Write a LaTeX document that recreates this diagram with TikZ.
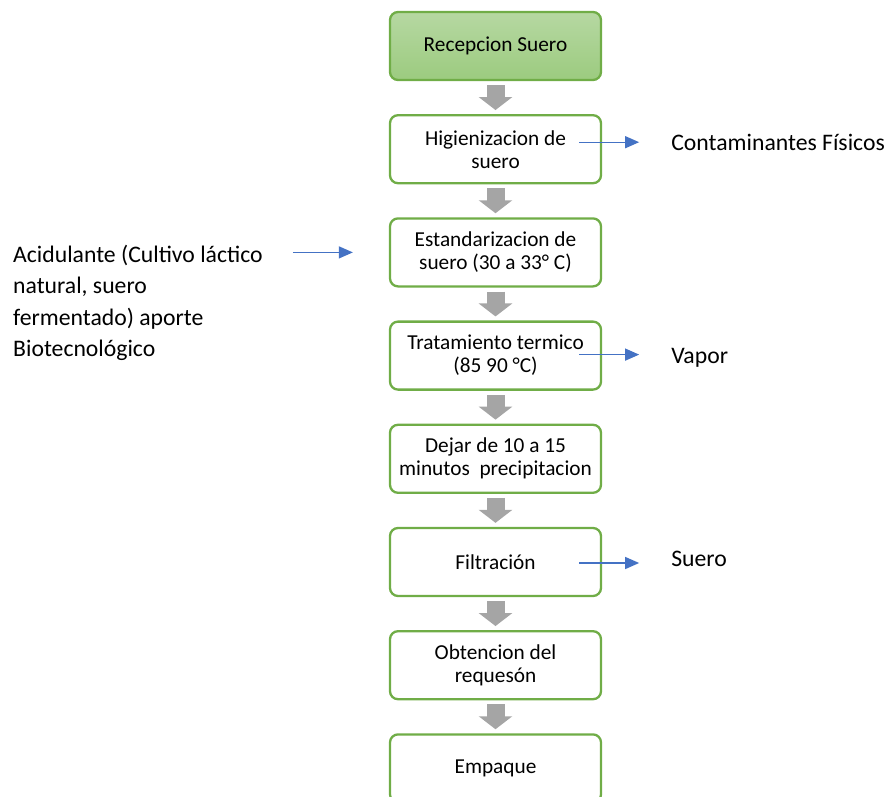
\documentclass[tikz,border=0pt]{standalone}
\usepackage{fontspec}
\setmainfont{Carlito}
\usetikzlibrary{arrows.meta,positioning}
\definecolor{boxgreen}{HTML}{70AD47}
\definecolor{fillgreentop}{RGB}{182,216,162}
\definecolor{fillgreenbot}{RGB}{156,203,127}
\definecolor{flowgray}{HTML}{A5A5A5}
\definecolor{sideblue}{HTML}{4472C4}

\begin{document}
\begin{tikzpicture}[x=1pt,y=1pt,node distance=103.2pt,
			main node/.style={rectangle,rounded corners=8pt,draw=boxgreen,line width=2.3pt,
				fill=white,minimum width=211pt,minimum height=68pt,align=center,
				font=\fontsize{21.3}{23}\selectfont},
			start node/.style={main node,top color=fillgreentop,bottom color=fillgreenbot},
			side node/.style={inner sep=0pt,align=left,
				font=\fontsize{23.7}{31.3}\selectfont},
			flow/.style={color=flowgray,line width=18pt,-{Triangle[length=13pt,width=33pt]},
				shorten <=4pt,shorten >=4pt},
			side arrow/.style={color=sideblue,line width=1.3pt,-{Triangle[length=14pt,width=12pt]}}
			]
			\useasboundingbox (0,0) rectangle (891,-797);
			
			\node[start node] (RS) at (495.5,-46) {Recepcion Suero};
			\node[main node] (HS) [below of=RS] {Higienizacion de\\suero};
			\node[main node] (ES) [below of=HS] {Estandarizacion de\\suero (30 a 33° C)};
			\node[main node] (TT) [below of=ES] {Tratamiento termico\\(85 90 °C)};
			\node[main node] (DP) [below of=TT] {Dejar de 10 a 15\\minutos\ \ precipitacion};
			\node[main node] (FI) [below of=DP] {Filtración};
			\node[main node] (OR) [below of=FI] {Obtencion del\\requesón};
			\node[main node] (EM) [below of=OR] {Empaque};
			
			% entradas y salidas
			\node[side node,anchor=west] (CF) at ([xshift=69pt,yshift=7pt]HS.east) {Contaminantes Físicos};
			\node[side node,anchor=west] (VA) at ([xshift=69pt,yshift=-2pt]TT.east) {Vapor};
			\node[side node,anchor=west] (SU) at ([xshift=69pt,yshift=3pt]FI.east) {Suero};
			\node[side node,anchor=north west] (AC) at (13,-245) {Acidulante (Cultivo láctico\\natural, suero\\fermentado) aporte\\Biotecnológico};
			
			\coordinate (HSa) at ([xshift=-23pt,yshift=7pt]HS.east);
			\coordinate (HSb) at ([xshift=37pt,yshift=7pt]HS.east);
			\coordinate (TTa) at ([xshift=-23pt,yshift=1pt]TT.east);
			\coordinate (TTb) at ([xshift=37pt,yshift=1pt]TT.east);
			\coordinate (FIa) at ([xshift=-23pt,yshift=-1pt]FI.east);
			\coordinate (FIb) at ([xshift=37pt,yshift=-1pt]FI.east);
			\coordinate (ESa) at ([xshift=-96pt]ES.west);
			\coordinate (ESb) at ([xshift=-36pt]ES.west);
			
			\path
			(RS) edge[flow] (HS)
			(HS) edge[flow] (ES)
			(ES) edge[flow] (TT)
			(TT) edge[flow] (DP)
			(DP) edge[flow] (FI)
			(FI) edge[flow] (OR)
			(OR) edge[flow] (EM)
			;
			
			\path
			(HSa) edge[side arrow] (HSb)
			(TTa) edge[side arrow] (TTb)
			(FIa) edge[side arrow] (FIb)
			(ESa) edge[side arrow] (ESb)
			;
			
\end{tikzpicture}
\end{document}
